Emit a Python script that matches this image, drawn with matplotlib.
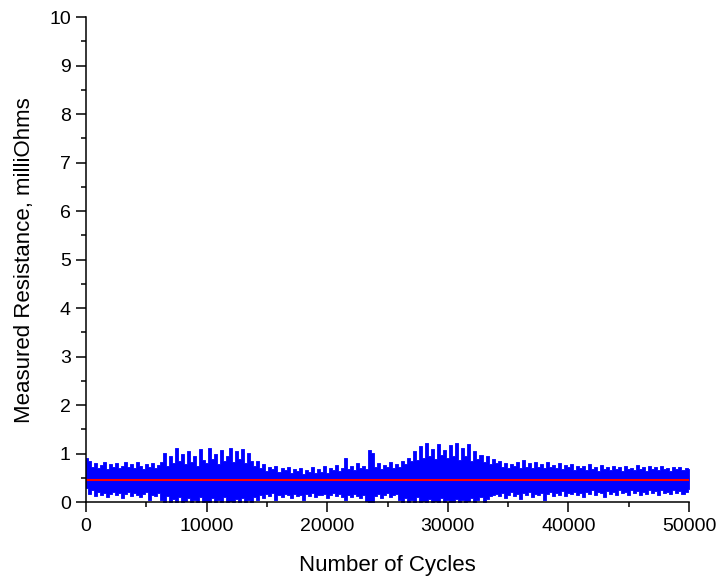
import numpy as np
import matplotlib
matplotlib.use("Agg")
import matplotlib.pyplot as plt
from matplotlib.ticker import MultipleLocator

# Cycle positions (every 250 cycles) and envelope of the measured resistance
cycles = list(range(0, 50001, 250))
upper = [0.92, 0.85, 0.72, 0.80, 0.70, 0.76, 0.82, 0.68, 0.78, 0.72,
         0.80, 0.70, 0.75, 0.83, 0.72, 0.78, 0.70, 0.84, 0.74, 0.68,
         0.78, 0.72, 0.80, 0.70, 0.76,
         0.82, 1.02, 0.75, 0.95, 0.80, 1.12, 0.85, 1.00, 0.78, 1.05,
         0.82, 0.95, 0.75, 1.10, 0.88, 0.80, 1.12, 0.90, 1.00, 0.78,
         1.08, 0.85, 0.95, 1.12, 0.82, 1.05, 0.90, 1.10, 0.80, 1.02,
         0.85, 0.75,
         0.85, 0.70, 0.78, 0.65, 0.72, 0.68, 0.75, 0.62, 0.70, 0.66,
         0.72, 0.60, 0.68, 0.64, 0.70, 0.58, 0.66, 0.62, 0.72, 0.60,
         0.68, 0.63, 0.74, 0.60, 0.70, 0.66, 0.76, 0.64, 0.70,
         0.92, 0.68, 0.74, 0.66, 0.80, 0.70, 0.75, 0.68, 1.08, 1.02,
         0.72, 0.80, 0.68, 0.76, 0.72, 0.82, 0.70, 0.78, 0.72, 0.85,
         0.78, 0.92, 0.85, 1.05, 0.88, 1.15, 0.92, 1.22, 0.95, 1.10,
         0.90, 1.20, 0.98, 1.08, 0.92, 1.18, 0.95, 1.22, 0.88, 1.12,
         0.95, 1.20, 0.85, 1.05, 0.90, 0.98, 0.82, 0.95, 0.78, 0.90,
         0.80, 0.85, 0.72, 0.80, 0.70, 0.78, 0.74, 0.82, 0.70, 0.88,
         0.72, 0.80, 0.70, 0.84, 0.72, 0.78, 0.70, 0.82, 0.72, 0.76,
         0.70, 0.80, 0.68, 0.76, 0.72, 0.78, 0.66, 0.75, 0.70, 0.74,
         0.66, 0.78, 0.68, 0.72, 0.65, 0.76, 0.68, 0.72, 0.66, 0.74,
         0.68, 0.72, 0.64, 0.75, 0.68, 0.70, 0.66, 0.76, 0.68, 0.72,
         0.65, 0.74, 0.68, 0.72, 0.66, 0.75, 0.68, 0.70, 0.64, 0.73,
         0.68, 0.72, 0.66, 0.70, 0.68]
lower = [0.30, 0.18, 0.25, 0.12, 0.22, 0.15, 0.20, 0.10, 0.18, 0.22,
         0.14, 0.20, 0.08, 0.18, 0.22, 0.12, 0.20, 0.15, 0.10, 0.18,
         0.22, 0.05, 0.16, 0.12, 0.20,
         0.05, 0.00, 0.12, 0.00, 0.06, 0.00, 0.10, 0.00, 0.02, 0.08,
         0.00, 0.05, 0.00, 0.10, 0.00, 0.03, 0.00, 0.08, 0.00, 0.04,
         0.00, 0.10, 0.00, 0.02, 0.00, 0.06, 0.00, 0.09, 0.00, 0.04,
         0.00, 0.10,
         0.05, 0.15, 0.08, 0.18, 0.12, 0.20, 0.05, 0.16, 0.10, 0.18,
         0.14, 0.08, 0.18, 0.12, 0.16, 0.05, 0.18, 0.12, 0.20, 0.10,
         0.16, 0.14, 0.18, 0.08, 0.15, 0.20, 0.12, 0.17, 0.10,
         0.04, 0.15, 0.10, 0.18, 0.12, 0.08, 0.16, 0.02, 0.00, 0.00,
         0.12, 0.18, 0.08, 0.15, 0.20, 0.10, 0.14, 0.18, 0.05, 0.00,
         0.08, 0.00, 0.04, 0.00, 0.10, 0.00, 0.02, 0.00, 0.06, 0.00,
         0.03, 0.00, 0.08, 0.00, 0.04, 0.00, 0.00, 0.06, 0.00, 0.05,
         0.00, 0.02, 0.08, 0.00, 0.05, 0.10, 0.00, 0.06, 0.12, 0.15,
         0.18, 0.12, 0.20, 0.08, 0.16, 0.22, 0.12, 0.18, 0.06, 0.20,
         0.15, 0.22, 0.10, 0.18, 0.14, 0.20, 0.05, 0.18, 0.22, 0.12,
         0.20, 0.16, 0.24, 0.12, 0.20, 0.18, 0.22, 0.14, 0.20, 0.10,
         0.22, 0.18, 0.25, 0.14, 0.22, 0.20, 0.10, 0.24, 0.18, 0.22,
         0.15, 0.25, 0.20, 0.22, 0.16, 0.26, 0.20, 0.24, 0.14, 0.22,
         0.18, 0.26, 0.20, 0.24, 0.16, 0.25, 0.20, 0.22, 0.18, 0.26,
         0.20, 0.24, 0.18, 0.22, 0.28]
mean_resistance = 0.45
x_ticks = [0, 10000, 20000, 30000, 40000, 50000]
y_ticks = list(range(0, 11))

plt.rcParams['font.family'] = ['Liberation Sans', 'DejaVu Sans']

fig = plt.figure(figsize=(7.17, 5.78), dpi=100)
ax = fig.add_axes([0.12, 0.131, 0.841, 0.8395])

ax.fill_between(cycles, lower, upper, step='mid', color='#0000ff',
                linewidth=0.6, edgecolor='#0000ff')
ax.plot([cycles[0], cycles[-1]], [mean_resistance, mean_resistance],
        color='#ff0000', linewidth=1.5)

ax.set_xlim(0, 50000)
ax.set_ylim(0, 10)
ax.set_xticks(x_ticks)
ax.set_yticks(y_ticks)
ax.xaxis.set_minor_locator(MultipleLocator(5000))
ax.yaxis.set_minor_locator(MultipleLocator(0.5))

for s in ['top', 'right']:
    ax.spines[s].set_visible(False)
for s in ['left', 'bottom']:
    ax.spines[s].set_linewidth(1.1)

ax.tick_params(which='major', direction='out', length=7, width=1.1,
               labelsize=14, pad=4)
ax.tick_params(which='minor', direction='out', length=3.6, width=1.1)

ax.set_xlabel('Number of Cycles', fontsize=16, labelpad=15)
ax.set_ylabel('Measured Resistance, milliOhms', fontsize=16, labelpad=10)

fig.savefig('out.png', dpi=100)
